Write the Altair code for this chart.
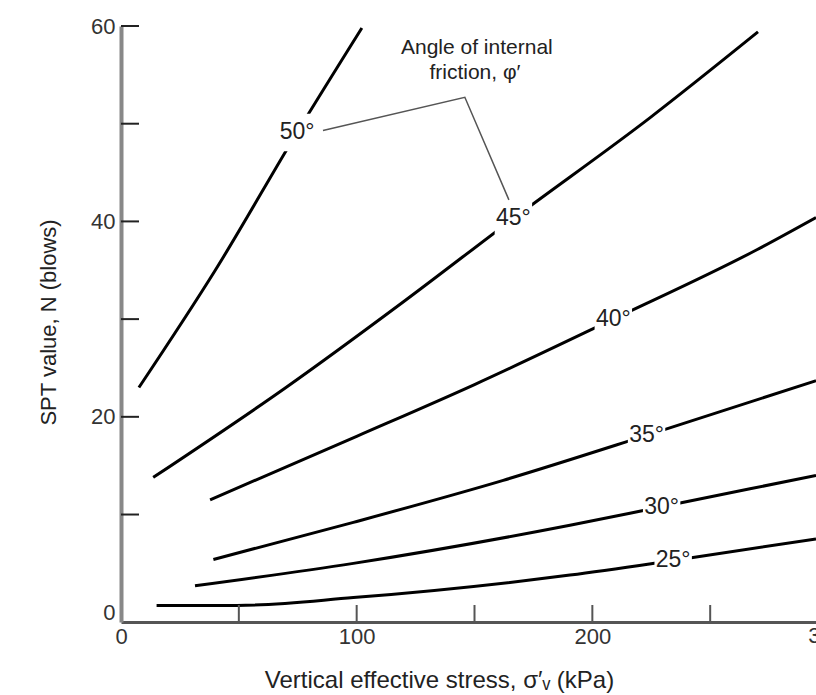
import altair as alt
import pandas as pd

# ---------------- data ----------------
angles = ["50°", "45°", "40°", "35°", "30°", "25°"]

phi50_x = [7.6, 40.0, 74.7, 102.2]
phi50_y = [23.0, 35.0, 49.1, 59.8]
phi45_x = [13.7, 70.0, 120.0, 166.5, 224.4, 270.3]
phi45_y = [13.8, 23.0, 31.8, 40.3, 50.6, 59.4]
phi40_x = [37.8, 100.0, 150.0, 208.9, 269.8, 294.9]
phi40_y = [11.5, 18.0, 23.3, 30.0, 37.1, 40.4]
phi35_x = [39.2, 98.6, 162.2, 223.0, 294.9]
phi35_y = [5.4, 9.2, 13.5, 18.1, 23.7]
phi30_x = [31.4, 98.6, 190.5, 229.4, 294.9]
phi30_y = [2.7, 5.0, 8.9, 10.8, 14.0]
phi25_x = [15.1, 49.1, 98.6, 190.5, 234.3, 294.9]
phi25_y = [0.7, 0.7, 1.5, 3.8, 5.3, 7.5]

# curve labels (angle text placed on each curve)
label_x = [74.7, 166.5, 208.9, 223.0, 229.4, 234.3]
label_y = [49.1, 40.3, 30.0, 18.1, 10.8, 5.3]

# leader line from "50°" to the annotation and on to "45°"
leader_x = [85.7, 145.9, 164.6]
leader_y = [49.3, 52.7, 42.2]

note_lines = ["Angle of internal", "friction, φ′"]
note_x = [151.0, 150.2]
note_y = [57.7, 55.2]

x_ticks_minor = [50, 100, 150, 200, 250]
y_ticks_minor = [10, 20, 30, 40, 50, 60]
x_labels = [0, 100, 200]
y_labels = [0, 20, 40, 60]
x_edge_label = ["300"]     # cut off at the right edge of the figure
x_edge_pos = [291.6]

# ---------------- tables ----------------
curves = [(phi50_x, phi50_y), (phi45_x, phi45_y), (phi40_x, phi40_y),
          (phi35_x, phi35_y), (phi30_x, phi30_y), (phi25_x, phi25_y)]
rows = []
for a, (xs_, ys_) in zip(angles, curves):
    for i, (xv, yv) in enumerate(zip(xs_, ys_)):
        rows.append({"angle": a, "i": i, "x": xv, "y": yv})
curve_df = pd.DataFrame(rows)
label_df = pd.DataFrame({"angle": angles, "x": label_x, "y": label_y})
leader_df = pd.DataFrame({"i": range(len(leader_x)), "x": leader_x, "y": leader_y})
note_df = pd.DataFrame({"t": note_lines, "x": note_x, "y": note_y})
xtick_df = pd.DataFrame({"x": x_ticks_minor})
ytick_df = pd.DataFrame({"y": y_ticks_minor})
edge_df = pd.DataFrame({"t": x_edge_label, "x": x_edge_pos})

# ---------------- layout ----------------
W, H = 695, 596
FONT = "Liberation Sans, Arial"

xs = alt.Scale(domain=[0, 294.9], nice=False, zero=False)
ys = alt.Scale(domain=[-1, 60], nice=False, zero=False)

xaxis = alt.Axis(values=x_labels, ticks=False, grid=False, domainColor="#555",
                 domainWidth=3, labelFont=FONT, labelFontSize=22,
                 labelColor="#333", labelPadding=4, labelFlush=False,
                 labelOverlap=False, labelBound=False,
                 title="Vertical effective stress, σ′ᵥ (kPa)",
                 titleFont=FONT, titleFontSize=24, titleFontWeight="normal",
                 titleColor="#222", titleX=318, titleY=58,
                 titleBaseline="middle", titleAlign="center")
yaxis = alt.Axis(values=y_labels, ticks=False, grid=False, domainColor="#888",
                 domainWidth=4, labelFont=FONT, labelFontSize=22,
                 labelColor="#333", labelPadding=6, labelFlush=False,
                 labelOverlap=False,
                 title="SPT value, N (blows)", titleFont=FONT, titleFontSize=22,
                 titleFontWeight="normal", titleColor="#222",
                 titleX=-73, titleY=296, titleAngle=270,
                 titleBaseline="middle", titleAlign="center")

X = alt.X("x:Q", scale=xs, axis=xaxis)
Y = alt.Y("y:Q", scale=ys, axis=yaxis)

lines = alt.Chart(curve_df).mark_line(
    color="black", strokeWidth=3, interpolate="monotone", clip=True
).encode(x=X, y=Y, detail="angle:N", order="i:Q")

ytick = alt.Chart(ytick_df).mark_rule(color="#222", strokeWidth=2).encode(
    y=Y, x=alt.value(0), x2=alt.value(18))
xtick = alt.Chart(xtick_df).mark_rule(color="#555", strokeWidth=2).encode(
    x=X, y=alt.value(H), y2=alt.value(H - 17))

gaps = alt.Chart(label_df).mark_square(
    size=1400, color="white", opacity=1, filled=True
).encode(x=X, y=Y)

leader = alt.Chart(leader_df).mark_line(color="#555", strokeWidth=1.5).encode(
    x=X, y=Y, order="i:Q")

labels = alt.Chart(label_df).mark_text(
    font=FONT, fontSize=23, color="#222", align="center", baseline="middle"
).encode(x=X, y=Y, text="angle:N")

note = alt.Chart(note_df).mark_text(
    font=FONT, fontSize=21, color="#222", align="center", baseline="middle"
).encode(x=X, y=Y, text="t:N")

edge = alt.Chart(edge_df).mark_text(
    font=FONT, fontSize=22, color="#333", align="left", baseline="top"
).encode(x=X, y=alt.value(H + 4), text="t:N")

chart = alt.layer(lines, ytick, xtick, gaps, leader, labels, note, edge).properties(
    width=W, height=H,
    autosize=alt.AutoSizeParams(type="none"),
    padding={"left": 121, "top": 26, "right": 0, "bottom": 695 - 26 - H},
    background="white",
).configure_view(stroke=None)

chart.save("out.html", embed_options={"renderer": "svg", "actions": False})
